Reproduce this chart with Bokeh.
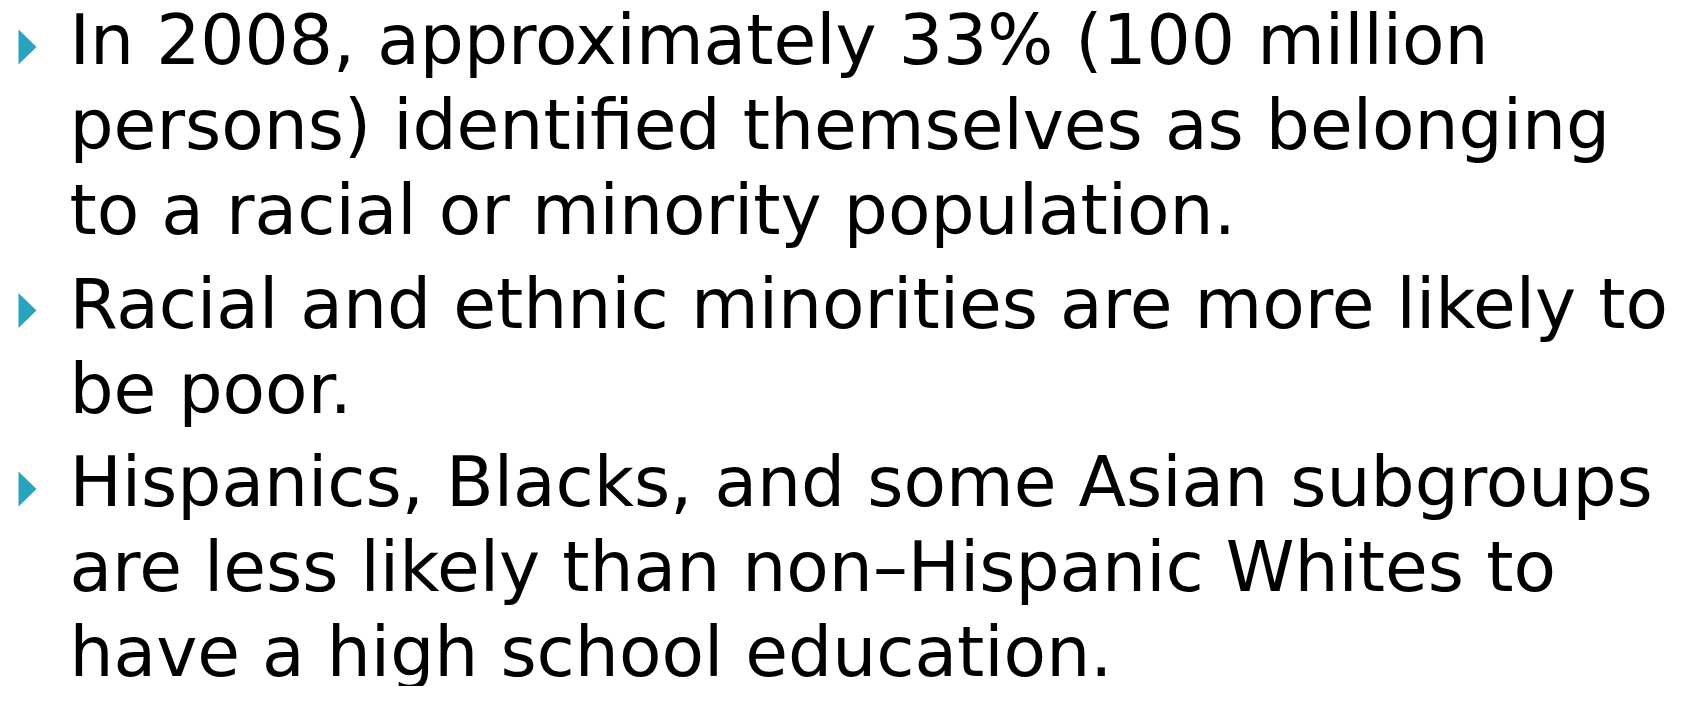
from bokeh.plotting import figure
from bokeh.models import Range1d, ColumnDataSource
from bokeh.core.properties import value
from bokeh.embed import file_html
from bokeh.resources import INLINE

# Slide content: each bullet is a list of wrapped lines
bullet_1 = ["In 2008, approximately 33% (100 million",
            "persons) identified themselves as belonging",
            "to a racial or minority population."]
bullet_2 = ["Racial and ethnic minorities are more likely to",
            "be poor."]
bullet_3 = ["Hispanics, Blacks, and some Asian subgroups",
            "are less likely than non\u2013Hispanic Whites to",
            "have a high school education."]
bullets = [bullet_1, bullet_2, bullet_3]

W, H = 1668, 686
FONT = "DejaVu Sans"
FONT_SIZE = 69.5
LINE_STEP = 85.2
PARA_GAP = 8
TOP_BASELINE = 64
TEXT_Y_SHIFT = -25
TEXT_X = 69
BULLET_COLOR = "#2AA3BF"

p = figure(width=W, height=H, output_backend="svg", toolbar_location=None,
           x_range=Range1d(0, W), y_range=Range1d(H, 0), min_border=0)
p.axis.visible = False
p.grid.visible = False
p.outline_line_color = None
p.background_fill_color = "white"
p.border_fill_color = "white"

xs, ys, texts = [], [], []
tri_xs, tri_ys = [], []
y = TOP_BASELINE
for b in bullets:
    tri_xs.append([18, 36, 18])
    tri_ys.append([y - 35, y - 17.5, y])
    for line in b:
        xs.append(TEXT_X)
        ys.append(y + TEXT_Y_SHIFT)
        texts.append(line)
        y += LINE_STEP
    y += PARA_GAP

p.patches(xs=tri_xs, ys=tri_ys, fill_color=BULLET_COLOR, line_color=None)
src = ColumnDataSource(dict(x=xs, y=ys, text=texts))
p.text(x="x", y="y", text="text", source=src, text_font=value(FONT),
       text_font_size=f"{FONT_SIZE}px", text_color="black",
       text_baseline="alphabetic", text_align="left")

open("out.html", "w").write(file_html(p, INLINE))
